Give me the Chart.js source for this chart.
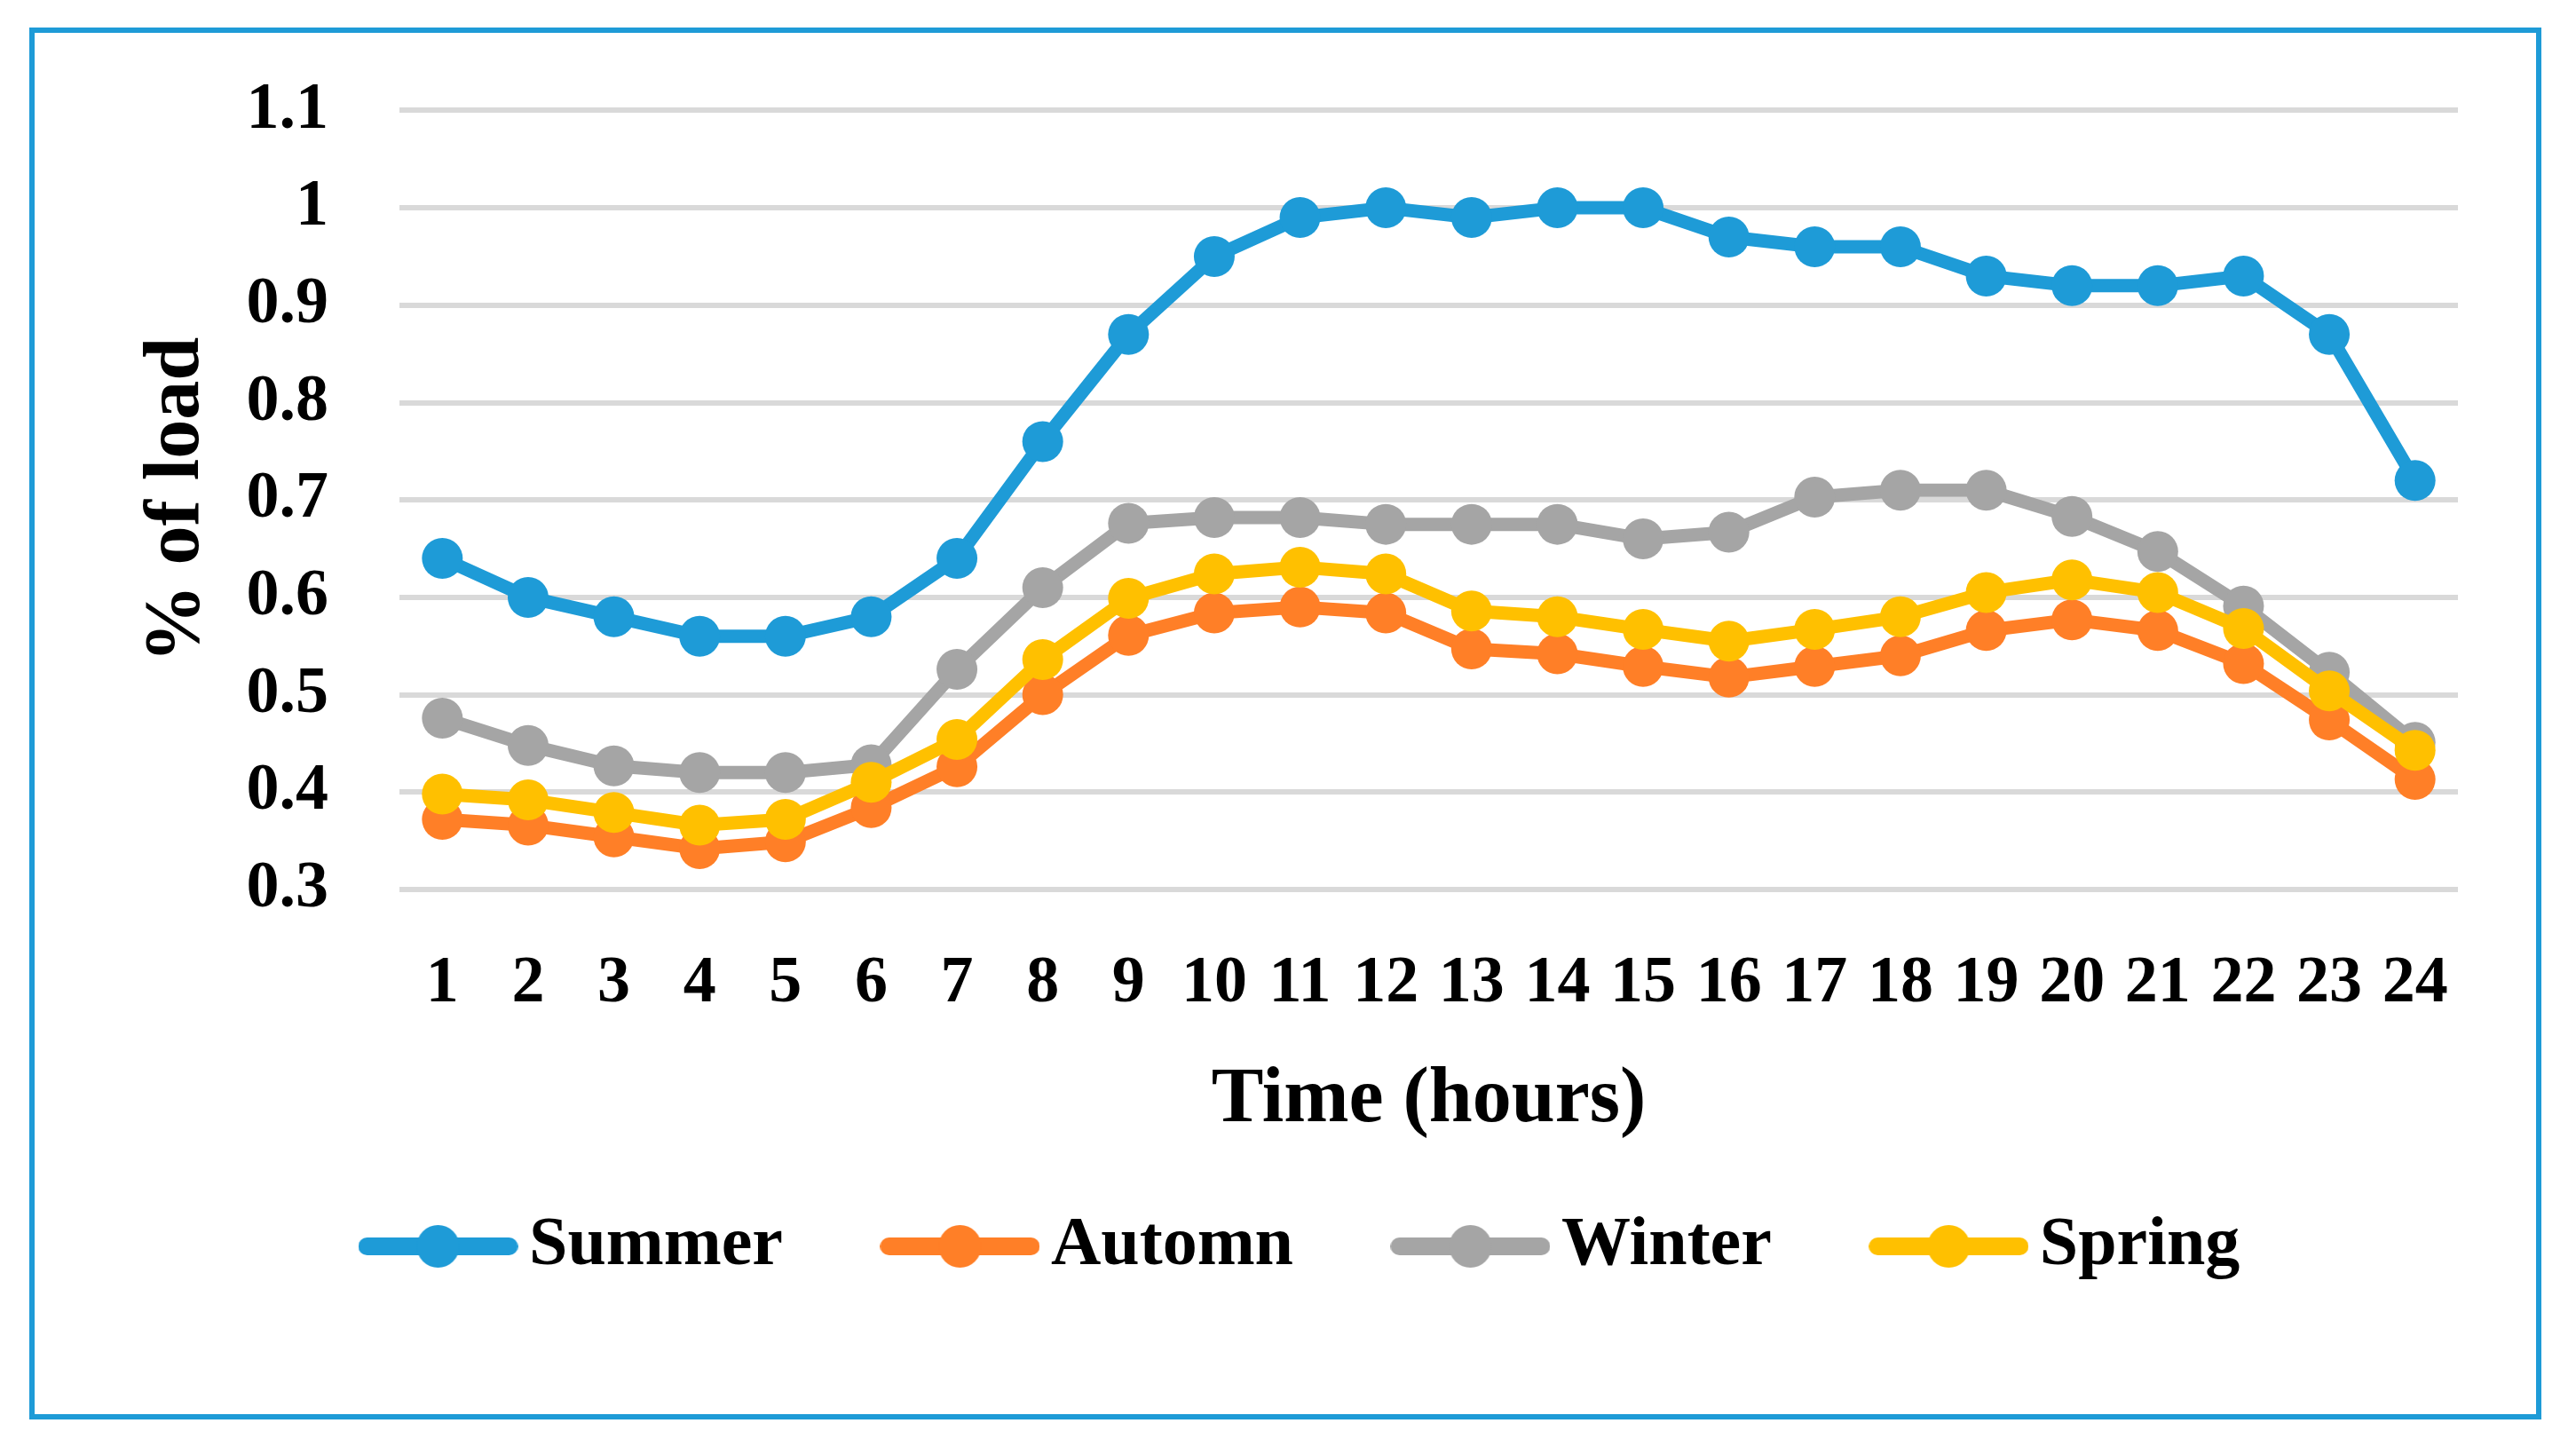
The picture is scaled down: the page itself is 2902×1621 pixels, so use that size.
<!DOCTYPE html>
<html>
<head>
<meta charset="utf-8">
<script src="https://cdn.jsdelivr.net/npm/chart.js@4.4.1/dist/chart.umd.min.js"></script>
<style>
html,body{margin:0;padding:0;background:#fff;overflow:hidden}
#wrap{width:2902px;height:1621px;position:relative}
</style>
</head>
<body>
<div id="wrap"><canvas id="c"></canvas></div>
<script>
// ---- data ----
const hours = ['1','2','3','4','5','6','7','8','9','10','11','12','13','14','15','16','17','18','19','20','21','22','23','24'];
const summer = [0.64,0.60,0.58,0.56,0.56,0.58,0.64,0.76,0.87,0.95,0.99,1.00,0.99,1.00,1.00,0.97,0.96,0.96,0.93,0.92,0.92,0.93,0.87,0.72];
const automn = [0.372,0.366,0.354,0.342,0.349,0.384,0.426,0.500,0.561,0.584,0.590,0.584,0.547,0.542,0.529,0.518,0.529,0.540,0.566,0.577,0.566,0.532,0.474,0.413];
const winter = [0.476,0.448,0.427,0.420,0.420,0.428,0.526,0.610,0.676,0.682,0.682,0.675,0.675,0.675,0.660,0.667,0.703,0.710,0.710,0.683,0.647,0.591,0.523,0.451];
const spring = [0.398,0.392,0.379,0.366,0.372,0.410,0.454,0.536,0.599,0.624,0.631,0.624,0.586,0.580,0.567,0.555,0.567,0.580,0.605,0.618,0.605,0.568,0.504,0.443];
const seriesNames = ['Summer','Automn','Winter','Spring'];
const yTicks = {min: 0.3, max: 1.1, step: 0.1};
const xTitle = 'Time (hours)';
const yTitle = '% of load';

// ---- styles ----
const colors = ['#1E9BD7','#FF7F27','#A5A5A5','#FFC000'];
const FONT = "'Liberation Serif', 'Times New Roman', serif";

function legendSymbol(color){
  const c = document.createElement('canvas');
  c.width = 180; c.height = 54;
  const g = c.getContext('2d');
  g.strokeStyle = color; g.lineWidth = 20; g.lineCap = 'round';
  g.beginPath(); g.moveTo(10,27); g.lineTo(170,27); g.stroke();
  g.fillStyle = color;
  g.beginPath(); g.arc(90,27,24,0,Math.PI*2); g.fill();
  return c;
}
const symbols = colors.map(legendSymbol);

const allSeries = [summer, automn, winter, spring];
const datasets = allSeries.map((vals,i)=>({
  label: seriesNames[i],
  data: vals,
  borderColor: colors[i],
  backgroundColor: colors[i],
  pointBackgroundColor: colors[i],
  pointBorderColor: colors[i],
  pointBorderWidth: 0,
  pointRadius: 23,
  pointHoverRadius: 23,
  borderWidth: 15,
  borderJoinStyle: 'round',
  borderCapStyle: 'round',
  tension: 0,
  fill: false,
  order: 4 - i
}));

const frame = {
  id: 'frame',
  beforeDraw(chart){
    const ctx = chart.ctx;
    ctx.save();
    ctx.fillStyle = '#fff';
    ctx.fillRect(0,0,chart.width,chart.height);
    ctx.strokeStyle = '#1E9BD7';
    ctx.lineWidth = 6;
    ctx.strokeRect(36,34,2824,1562);
    ctx.restore();
  },
  afterLayout(chart){
    if (chart.legend){
      chart.legend.left = 294;
      chart.legend.top = 1229;
    }
  }
};

new Chart(document.getElementById('c'), {
  type: 'line',
  data: { labels: hours, datasets },
  plugins: [frame],
  options: {
    responsive: true,
    maintainAspectRatio: false,
    animation: false,
    devicePixelRatio: 1,
    layout: { padding: { left: 0, right: 133, top: 124, bottom: 95 } },
    plugins: {
      tooltip: { enabled: false },
      legend: {
        display: true,
        position: 'bottom',
        align: 'start',
        labels: {
          usePointStyle: true,
          pointStyleWidth: 127,
          padding: 136,
          color: '#000',
          font: { family: FONT, size: 78, weight: 'bold' },
          generateLabels(chart){
            return chart.data.datasets.map((ds,i)=>({
              text: ds.label,
              pointStyle: symbols[i],
              fillStyle: ds.borderColor,
              strokeStyle: ds.borderColor,
              lineWidth: 0,
              hidden: !chart.isDatasetVisible(i),
              datasetIndex: i,
              fontColor: '#000'
            }));
          }
        }
      }
    },
    scales: {
      x: {
        offset: true,
        grid: { display: false, drawTicks: false },
        border: { display: false },
        ticks: {
          color: '#000',
          padding: 62,
          autoSkip: false,
          maxRotation: 0,
          minRotation: 0,
          font: { family: FONT, size: 74, weight: 'bold' }
        },
        title: {
          display: true,
          text: xTitle,
          color: '#000',
          padding: { top: 0, bottom: 9 },
          font: { family: FONT, size: 88, weight: 'bold' }
        },
        afterFit(scale){ scale.height = 300; }
      },
      y: {
        min: yTicks.min,
        max: yTicks.max,
        grid: { color: '#D9D9D9', lineWidth: 6, drawTicks: false },
        border: { display: false },
        ticks: {
          stepSize: yTicks.step,
          color: '#000',
          padding: 80,
          font: { family: FONT, size: 74, weight: 'bold' },
          callback: (v) => String(parseFloat(Number(v).toFixed(1)))
        },
        title: {
          display: true,
          text: yTitle,
          color: '#000',
          padding: { top: 147, bottom: 0 },
          font: { family: FONT, size: 88, weight: 'bold' }
        },
        afterFit(scale){ scale.width = 450; }
      }
    }
  }
});
</script>
</body>
</html>
